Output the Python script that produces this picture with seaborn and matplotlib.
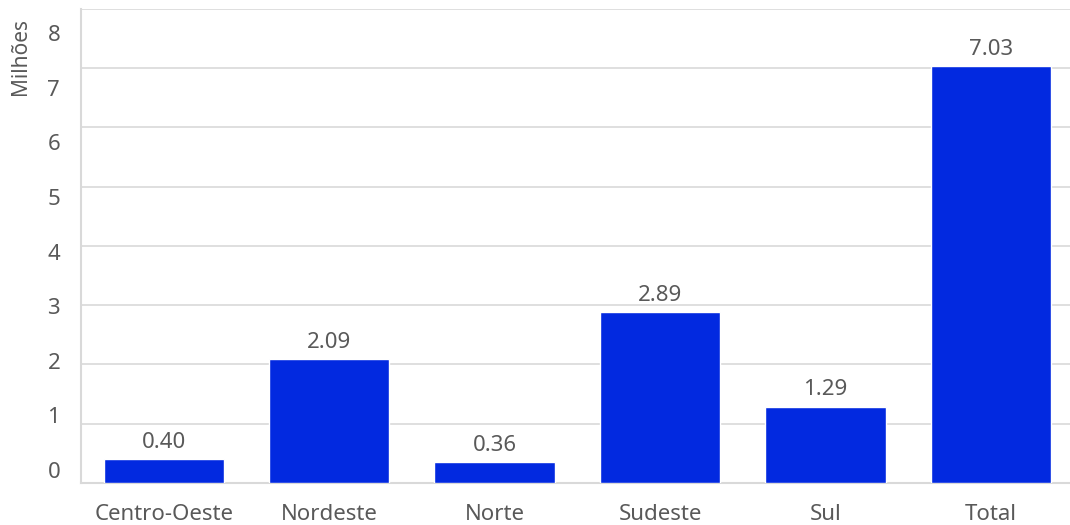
import pandas as pd
import matplotlib.pyplot as plt
import seaborn as sns

# --- Data ---
regioes = ['Centro-Oeste', 'Nordeste', 'Norte', 'Sudeste', 'Sul', 'Total']
valores = [0.40, 2.09, 0.36, 2.89, 1.29, 7.03]
y_ticks = [0, 1, 2, 3, 4, 5, 6, 7, 8]

df = pd.DataFrame({'Regiao': regioes, 'Valor': valores})

BAR_COLOR = '#0229E0'
TEXT_COLOR = '#595959'
GRID_COLOR = '#D9D9D9'

sns.set_theme(style='white')
plt.rcParams['font.family'] = ['Noto Sans', 'DejaVu Sans']

fig = plt.figure(figsize=(10.7, 5.25), dpi=100)
ax = fig.add_axes([0.0757, 0.08, 0.9243, 0.903])

sns.barplot(data=df, x='Regiao', y='Valor', color=BAR_COLOR, saturation=1,
            width=0.727, ax=ax, zorder=3)

ax.set_ylim(0, 8)
ax.set_xlim(-0.5, 5.478)

# gridlines on the integer values
ax.set_yticks(y_ticks, minor=True)
ax.yaxis.grid(True, which='minor', color=GRID_COLOR, linewidth=1.2, zorder=0)
ax.set_axisbelow(True)

# labels in the original sit on a slightly tighter spacing than the grid
label_pos = [0.22 + k * 0.9215 for k in y_ticks]
ax.set_yticks(label_pos)
ax.set_yticklabels([str(k) for k in y_ticks])

for s in ['top', 'right']:
    ax.spines[s].set_visible(False)
for s in ['left', 'bottom']:
    ax.spines[s].set_color(GRID_COLOR)
    ax.spines[s].set_linewidth(1.5)

ax.tick_params(axis='y', which='both', length=0, pad=15, labelsize=16,
               labelcolor=TEXT_COLOR)
ax.tick_params(axis='x', length=0, pad=15, labelsize=16, labelcolor=TEXT_COLOR)

# small separators between the categories
ax.set_xticks([i + 0.5 for i in range(len(regioes) - 1)], minor=True)
ax.tick_params(axis='x', which='minor', direction='in', length=9, width=1.2,
               color=GRID_COLOR)

ax.set_xlabel('')
ax.set_ylabel('')
fig.text(21 / 1070, 1 - 18 / 525, 'Milhões', rotation=90, ha='center', va='top',
         fontsize=15, color=TEXT_COLOR)

# value labels above the bars
for i, v in enumerate(valores):
    ax.annotate(f'{v:.2f}', (i, v), xytext=(0, 8), textcoords='offset points',
                ha='center', va='baseline', fontsize=16, color=TEXT_COLOR)

plt.savefig('out.png', dpi=100)
